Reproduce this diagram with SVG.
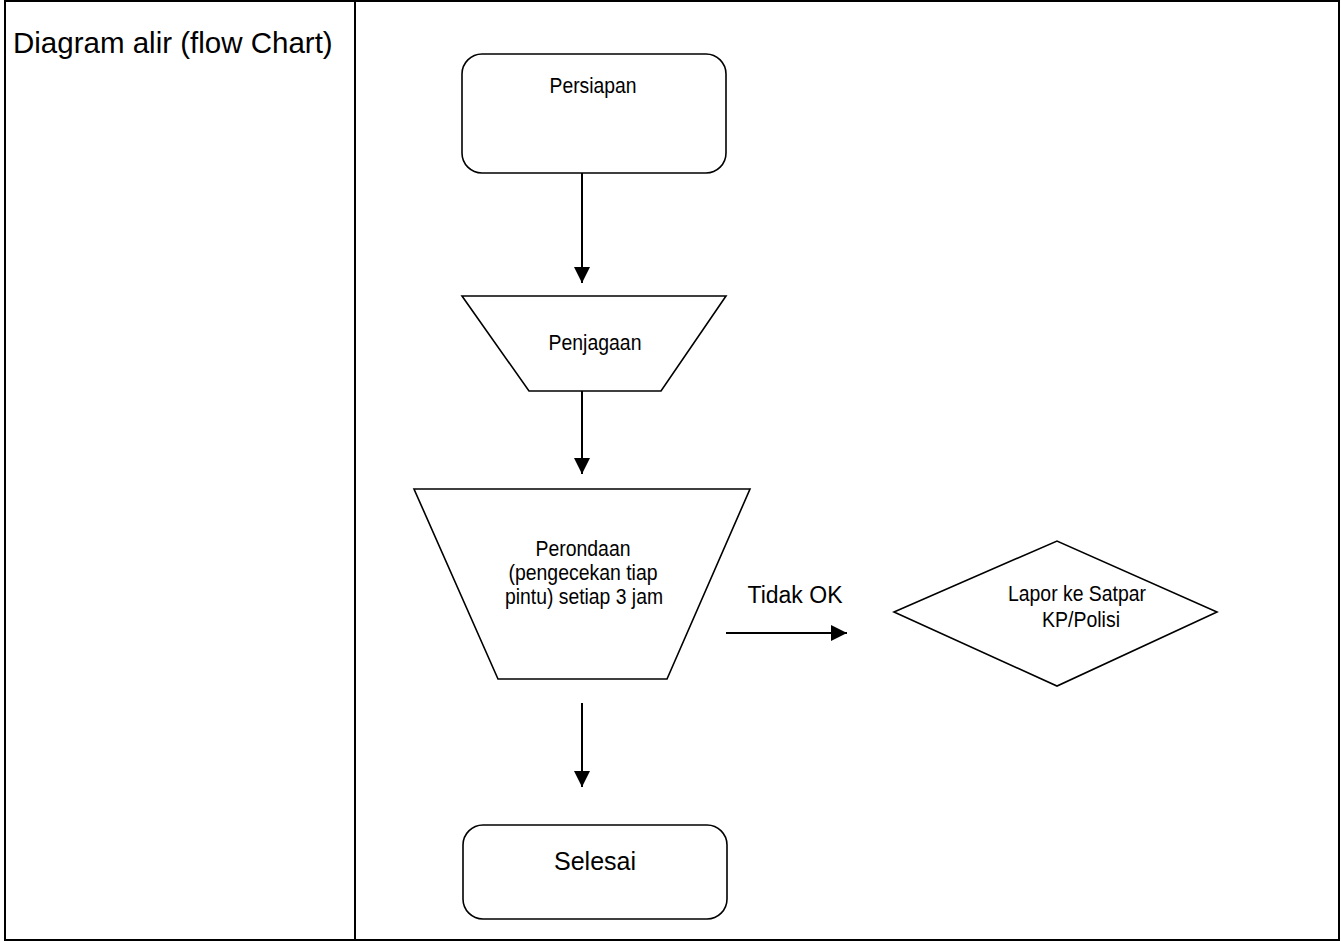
<svg xmlns="http://www.w3.org/2000/svg" width="1341" height="941" viewBox="0 0 1341 941">
  <defs>
    <style>
      .frame { fill: none; stroke: #000; stroke-width: 2; }
      .shape { fill: #fff; stroke: #000; stroke-width: 1.6; }
      .edge { fill: none; stroke: #000; stroke-width: 2; }
      text { font-family: "Liberation Sans", Arial, sans-serif; fill: #000; }
      .lbl { font-size: 21.5px; text-anchor: middle; }
    </style>
    <marker id="arrow" viewBox="0 0 16 16" refX="16" refY="8" markerWidth="16" markerHeight="16" markerUnits="userSpaceOnUse" orient="auto">
      <path d="M0,0 L16,8 L0,16 Z" fill="#000"/>
    </marker>
  </defs>
  <rect width="1341" height="941" fill="#fff"/>

  <!-- table frame with the label column -->
  <g id="table">
    <rect class="frame" x="5" y="1" width="1334" height="939"/>
    <line class="frame" x1="355" y1="0" x2="355" y2="941"/>
    <text x="13" y="53" font-size="29.5">Diagram alir (flow Chart)</text>
  </g>

  <!-- connectors -->
  <g id="connectors">
    <line class="edge" x1="582" y1="173" x2="582" y2="283" marker-end="url(#arrow)"/>
    <line class="edge" x1="582" y1="391" x2="582" y2="474" marker-end="url(#arrow)"/>
    <line class="edge" x1="582" y1="703" x2="582" y2="787" marker-end="url(#arrow)"/>
    <line class="edge" x1="726" y1="633" x2="847" y2="633" marker-end="url(#arrow)"/>
    <text x="795" y="603" font-size="23" text-anchor="middle">Tidak OK</text>
  </g>

  <g id="persiapan">
    <rect class="shape" x="462" y="54" width="264" height="119" rx="20"/>
    <text class="lbl" x="593" y="93" textLength="87" lengthAdjust="spacingAndGlyphs">Persiapan</text>
  </g>

  <g id="penjagaan">
    <polygon class="shape" points="462,296 726,296 661,391 529,391"/>
    <text class="lbl" x="595" y="350" textLength="93" lengthAdjust="spacingAndGlyphs">Penjagaan</text>
  </g>

  <g id="perondaan">
    <polygon class="shape" points="414,489 750,489 667,679 498,679"/>
    <text class="lbl" x="583" y="556" textLength="95" lengthAdjust="spacingAndGlyphs">Perondaan</text>
    <text class="lbl" x="583" y="580" textLength="149" lengthAdjust="spacingAndGlyphs">(pengecekan tiap</text>
    <text class="lbl" x="584" y="604" textLength="158" lengthAdjust="spacingAndGlyphs">pintu) setiap 3 jam</text>
  </g>

  <g id="lapor">
    <polygon class="shape" points="894,612 1057,541 1217,612 1057,686"/>
    <text class="lbl" x="1077" y="601" textLength="138" lengthAdjust="spacingAndGlyphs">Lapor ke Satpar</text>
    <text class="lbl" x="1081" y="627" textLength="78" lengthAdjust="spacingAndGlyphs">KP/Polisi</text>
  </g>

  <g id="selesai">
    <rect class="shape" x="463" y="825" width="264" height="94" rx="20"/>
    <text x="595" y="870" font-size="26" text-anchor="middle" textLength="82" lengthAdjust="spacingAndGlyphs">Selesai</text>
  </g>
</svg>
